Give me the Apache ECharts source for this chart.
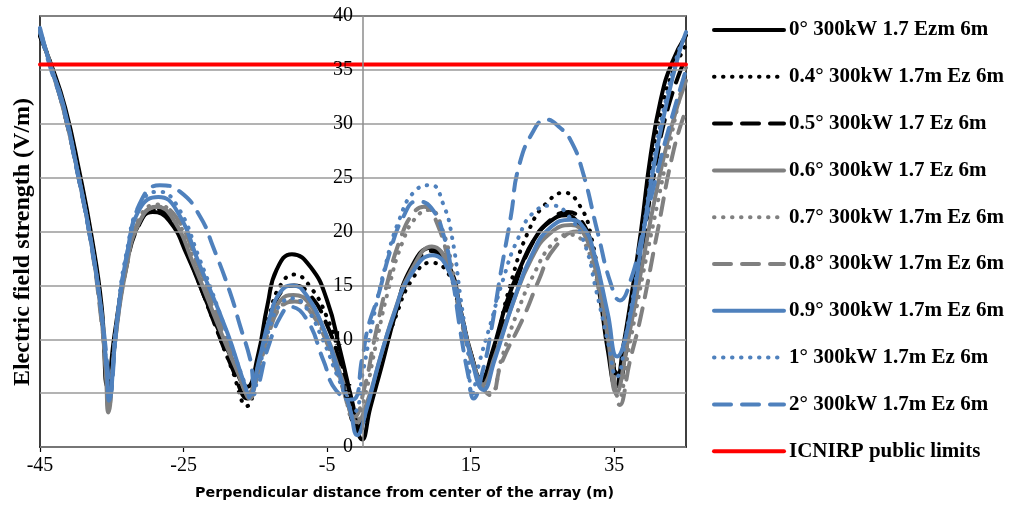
<!DOCTYPE html>
<html>
<head>
<meta charset="utf-8">
<script src="https://cdn.jsdelivr.net/npm/echarts@6/dist/echarts.min.js"></script>
<style>html,body{margin:0;padding:0;background:#fff;}#c{width:1009px;height:509px;}</style>
</head>
<body>
<div id="c"></div>
<script>
const xTicks = [-45, -25, -5, 15, 35];
const seriesNames = [
  '0° 300kW 1.7 Ezm 6m',
  '0.4° 300kW 1.7m Ez 6m',
  '0.5° 300kW 1.7 Ez 6m',
  '0.6° 300kW 1.7 Ez 6m',
  '0.7° 300kW 1.7m Ez 6m',
  '0.8° 300kW 1.7m Ez 6m',
  '0.9° 300kW 1.7m Ez 6m',
  '1° 300kW 1.7m Ez 6m',
  '2° 300kW 1.7m Ez 6m',
  'ICNIRP public limits'
];
const s00 = [[-45,38.1],[-43.5,35.6],[-41.5,31.5],[-39.5,25.5],[-37.8,19.5],[-36.4,13],[-35.6,5.6],[-34.6,10.5],[-33.2,16.2],[-31.5,20.3],[-29.3,21.8],[-27,21],[-24.5,17.8],[-21.5,13],[-18.5,8.5],[-16.1,5.6],[-14.7,8.3],[-13.3,13.2],[-12,16.5],[-9.9,17.9],[-7.3,16.7],[-5,13.6],[-3.2,9],[-1.5,4.2],[-0.1,0.7],[1.0,3.6],[2.6,7.5],[4.5,12.3],[6.6,16.5],[9.5,18.5],[12,16.8],[13.6,12.7],[15,8.8],[16.5,6.3],[18,8.8],[20.1,13.6],[22,16.8],[23.8,19.2],[26,20.9],[28.3,21.5],[30.3,20.5],[31.7,18.8],[33.1,13.6],[34.1,9.0],[35.2,5.6],[36.3,9.5],[37.3,13.6],[38.7,19.9],[40.1,27.2],[41.5,32.3],[43,35.6],[45,38.2]];
const s04 = [[-45,38.3],[-43.5,35.5],[-41.6,31.2],[-39.6,25.3],[-37.8,19],[-36.5,12.8],[-35.7,6.5],[-35.5,4.3],[-34.5,10.5],[-33,16.8],[-31.2,20.8],[-29,22],[-26.5,21],[-24,17.2],[-21,12],[-18.3,7.3],[-16.2,3.8],[-14.6,7.8],[-13,12.3],[-11.5,15],[-9.6,16],[-7.5,15],[-5,12],[-3,7.8],[-0.5,1.5],[0.8,3.8],[2.5,8],[4.5,12],[6.8,15.5],[9.4,17.1],[11.8,16.2],[13.4,12.8],[15,8.5],[16.8,6.0],[18.3,9],[20.5,15],[23.3,20.4],[25.8,22.8],[28,23.6],[30.2,22.4],[31.8,19.5],[33.3,13.5],[34.5,9],[35.6,6.6],[37,11.5],[38.7,19.5],[40.3,27],[41.8,32],[43.3,35],[45,37.3]];
const s05 = [[-45,38.3],[-43.5,35.4],[-41.6,31],[-39.6,25],[-37.8,18.8],[-36.5,12.5],[-35.7,6],[-35.5,4.0],[-34.5,10.3],[-33,16.6],[-31.2,20.6],[-29,22.1],[-26.5,21],[-24,17.2],[-21,12],[-18.2,7.3],[-16.1,4.5],[-14.6,7.6],[-13,11.8],[-11.5,14.3],[-9.6,15],[-7.5,14.2],[-5,11.3],[-3,7.3],[-0.7,1.8],[0.7,4],[2.5,8.3],[4.5,12.5],[6.8,16.2],[9.4,18.2],[12,16.5],[13.6,12.5],[15.1,8.5],[16.8,6.0],[18.4,8.8],[20.7,14],[23.5,18.8],[26,21],[28.6,21.8],[30.6,20.8],[32,18.2],[33.6,12.5],[34.8,8],[35.5,5.8],[37,10.5],[38.8,18],[40.6,25.5],[42.5,31.5],[45,36.2]];
const s06 = [[-45,38.5],[-43.5,35.3],[-41.6,31],[-39.6,25],[-37.8,18.7],[-36.5,12.5],[-35.8,6.5],[-35.5,3.2],[-34.5,10],[-33,16.5],[-31.2,20.8],[-28.8,22.3],[-26.5,21.2],[-23.5,16.8],[-20,11],[-17.5,7],[-16,5.0],[-14.6,7.5],[-13,11.5],[-11.5,13.6],[-9.7,14.1],[-7.5,13.3],[-5,10.2],[-3,6.5],[-0.8,2.3],[0.6,4.2],[2.5,8.5],[4.5,12.8],[6.8,16.5],[9.6,18.6],[12,16.6],[13.7,12.2],[15.2,8.2],[16.7,5.8],[18.3,8.3],[20.8,13.2],[23.5,17.5],[26,19.8],[29,20.6],[31,19.5],[32.4,16.5],[34.1,10.2],[35.3,5.0],[36.8,9.5],[38.8,16.5],[40.8,23.5],[43,29.8],[45,34.0]];
const s07 = [[-45,38.6],[-43.5,35.4],[-41.7,31.3],[-39.7,25.3],[-37.9,19],[-36.6,12.8],[-35.7,6.8],[-35.5,4.0],[-34.4,10.8],[-33,17],[-31.2,21.2],[-28.8,22.5],[-26.3,21.4],[-23.3,17],[-19.8,11],[-17.3,6.8],[-15.8,4.8],[-14.5,7.5],[-13,11],[-11.5,13],[-9.6,13.6],[-7.5,12.8],[-5,9.8],[-3,6],[-1,2.2],[0.3,4.8],[1.8,9.5],[3.5,14.5],[5.5,19],[7.5,21.4],[9.3,22.0],[11,20.3],[12.8,15.5],[14.5,10],[16.2,6.3],[17.8,5.0],[19.3,8.2],[21.5,12.5],[24,16.3],[26.3,18.8],[28.5,19.7],[30.5,19.2],[32,16.8],[33.8,11.5],[35,6.5],[35.6,4.5],[37,9],[39,16],[41,22.5],[43,29],[45,35.2]];
const s08 = [[-45,38.6],[-43.5,35.4],[-41.7,31.3],[-39.7,25.2],[-37.9,18.9],[-36.6,12.6],[-35.7,6.5],[-35.5,3.5],[-34.4,10.6],[-33,16.8],[-31.2,21],[-28.5,22.3],[-26,21.3],[-23,16.9],[-19.6,11],[-17.2,7],[-15.8,4.5],[-14.5,7.2],[-13,10.8],[-11.5,12.9],[-9.5,13.5],[-7.5,12.7],[-5,9.6],[-3,5.8],[-1.2,2.8],[0.2,5.5],[1.6,10],[3.3,15],[5.3,19.5],[7,21.7],[8.5,22.3],[10.3,20.8],[12.2,16.3],[14,10.8],[15.8,6.8],[17.8,4.8],[19.3,7.8],[22.4,12.1],[24.5,15.5],[26.5,18.3],[29.8,20.0],[31.5,18.8],[33,15.5],[34.5,9.5],[35.8,3.9],[37.2,8],[38.7,12.1],[41,19.9],[43.3,27.6],[45,31.3]];
const s09 = [[-45,38.9],[-43.6,35.5],[-41.8,31.9],[-39.8,25.7],[-38,19.5],[-36.6,13.4],[-35.7,7.2],[-35.4,4.3],[-34.3,11.5],[-32.9,17.8],[-31.1,22.1],[-28.5,23.2],[-26,22],[-22.7,16.8],[-18.9,10.6],[-16.6,6],[-15.8,4.8],[-14.5,8],[-13,12],[-11.5,14.4],[-9.8,15],[-8,14.2],[-5.5,11],[-3.5,7.2],[-1.8,3.5],[-0.8,1.1],[0.5,3.5],[2.2,7.8],[4.3,12.3],[6.5,15.8],[9.7,17.8],[12.2,16],[13.6,12.5],[15,8.5],[16.8,5.3],[18.3,8],[21,13.6],[23.5,17.8],[26,20.3],[29,21.1],[30.8,20.3],[32.1,18.2],[34.1,12.4],[35.4,8.4],[36.9,11.1],[38.7,18.3],[40.5,26],[42.4,32.2],[44,36.5],[45,38.5]];
const s10 = [[-45,38.8],[-43.6,35.5],[-41.8,31.8],[-39.8,25.6],[-38,19.4],[-36.6,13.3],[-35.7,7.2],[-35.4,4.5],[-34.3,11.8],[-32.9,18.2],[-31,22.6],[-28.5,23.7],[-26,22.5],[-22.8,17.5],[-19.2,11],[-16.8,6.5],[-15.6,4.5],[-14.4,7.5],[-12.9,11.3],[-11.4,13.3],[-9.8,13.8],[-8,13],[-5.5,9.8],[-3.5,6.5],[-1.2,3.3],[0,7],[1.3,11.5],[3,16.5],[5,21],[7.3,23.8],[9.5,24.3],[11.2,22.5],[12.4,19.5],[13.6,13.8],[14.6,9],[15.2,4.8],[16.2,7.8],[17.8,11.5],[19.5,15.5],[21.5,19.2],[24,21.9],[26.5,22.4],[28.8,21.3],[30.8,19],[32.5,14.5],[34.2,9.5],[35.3,6.5],[36.8,11],[38.7,18.5],[40.5,26.5],[42.3,32.5],[44,36.8],[45,38.3]];
const s20 = [[-45,38.5],[-43.6,35.3],[-41.8,31.6],[-39.8,25.5],[-38,19.4],[-36.6,13.3],[-35.6,7.5],[-35.3,4.8],[-34.2,12],[-32.7,18.5],[-30.8,23],[-28.3,24.3],[-25.5,23.7],[-22.7,21.4],[-20.9,18.6],[-18.5,14.3],[-17.1,11.2],[-15.7,8.1],[-15.0,5.5],[-13.2,9.3],[-11.5,12.1],[-10.1,13.0],[-7.8,11.8],[-5.5,8],[-3.8,5.3],[-1.5,4.4],[-0.1,8.3],[0.7,11.1],[2.1,14],[3.8,18.2],[5.5,21.2],[7.5,22.8],[9.5,22.2],[11.3,19.5],[12.5,15.5],[13.6,10.6],[14.7,6.5],[15.4,4.5],[16.8,7.4],[17.8,10.6],[19.2,16.2],[20.6,21.4],[21.7,26],[23.8,29.4],[25.5,30.4],[27.5,29.6],[28.9,28.5],[30.5,25.8],[32.7,19.9],[34.5,15.2],[35.8,13.6],[37.3,15.5],[39,20],[41,25.5],[43,30.5],[45,35]];
const limitLine = [[-45,35.5],[45,35.5]];

const BLACK = '#000000', GRAY = '#808080', BLUE = '#4f81bd', RED = '#ff0000';
const DOT = [0.5, 8.5], DASH = [17, 11];
const styles = [
  {color: BLACK, type: 'solid'},
  {color: BLACK, type: DOT},
  {color: BLACK, type: DASH},
  {color: GRAY, type: 'solid'},
  {color: GRAY, type: DOT},
  {color: GRAY, type: DASH},
  {color: BLUE, type: 'solid'},
  {color: BLUE, type: DOT},
  {color: BLUE, type: DASH},
  {color: RED, type: 'solid'}
];
const datasets = [s00, s04, s05, s06, s07, s08, s09, s10, s20, limitLine];

const series = datasets.map((d, i) => ({
  name: seriesNames[i],
  type: 'line',
  data: d,
  smooth: i === 9 ? false : 0.5,
  symbol: 'none',
  showSymbol: false,
  color: styles[i].color,
  lineStyle: {color: styles[i].color, width: 4, type: styles[i].type, cap: 'round', join: 'round'},
  z: 2 + i,
  animation: false
}));

const chart = echarts.init(document.getElementById('c'), null, {renderer: 'canvas'});
chart.setOption({
  animation: false,
  backgroundColor: '#fff',
  grid: {left: 40, right: 323, top: 16, bottom: 62, show: true, borderColor: '#000', borderWidth: 1.5, containLabel: false},
  xAxis: {
    type: 'value', min: -45, max: 45,
    axisLine: {onZero: false, lineStyle: {color: '#000', width: 1.5}},
    axisTick: {show: true, length: 5, lineStyle: {color: '#000', width: 1.2}, customValues: xTicks},
    axisLabel: {customValues: xTicks, fontFamily: 'Liberation Serif', fontSize: 20, color: '#000', margin: 9},
    splitLine: {show: false}
  },
  yAxis: {
    type: 'value', min: 0, max: 40, interval: 5,
    offset: -323,
    axisLine: {show: true, onZero: false, lineStyle: {color: '#8c8c8c', width: 1.5}},
    axisTick: {show: false},
    axisLabel: {fontFamily: 'Liberation Serif', fontSize: 20, color: '#000', margin: 10},
    splitLine: {show: true, lineStyle: {color: '#9a9a9a', width: 1.5}},
    z: 20
  },
  legend: {
    orient: 'vertical', left: 707, top: 14,
    itemWidth: 70, itemHeight: 14, itemGap: 24.8,
    itemStyle: {color: 'rgba(0,0,0,0)', borderColor: 'rgba(0,0,0,0)', borderWidth: 0, opacity: 0},
    lineStyle: {width: 4},
    textStyle: {fontFamily: 'Liberation Serif', fontWeight: 'bold', fontSize: 21, color: '#000', lineHeight: 22},
    data: seriesNames
  },
  graphic: [
    {type: 'text', left: 195, top: 486, style: {text: 'Perpendicular distance from center of the array (m)', font: 'bold 14.3px "DejaVu Sans"', fill: '#000'}},
    {type: 'text', x: 23, y: 242, rotation: Math.PI / 2, style: {text: 'Electric field strength (V/m)', font: 'bold 24px "Liberation Serif"', fill: '#000', align: 'center', verticalAlign: 'middle'}}
  ],
  series: series
});
</script>
</body>
</html>
